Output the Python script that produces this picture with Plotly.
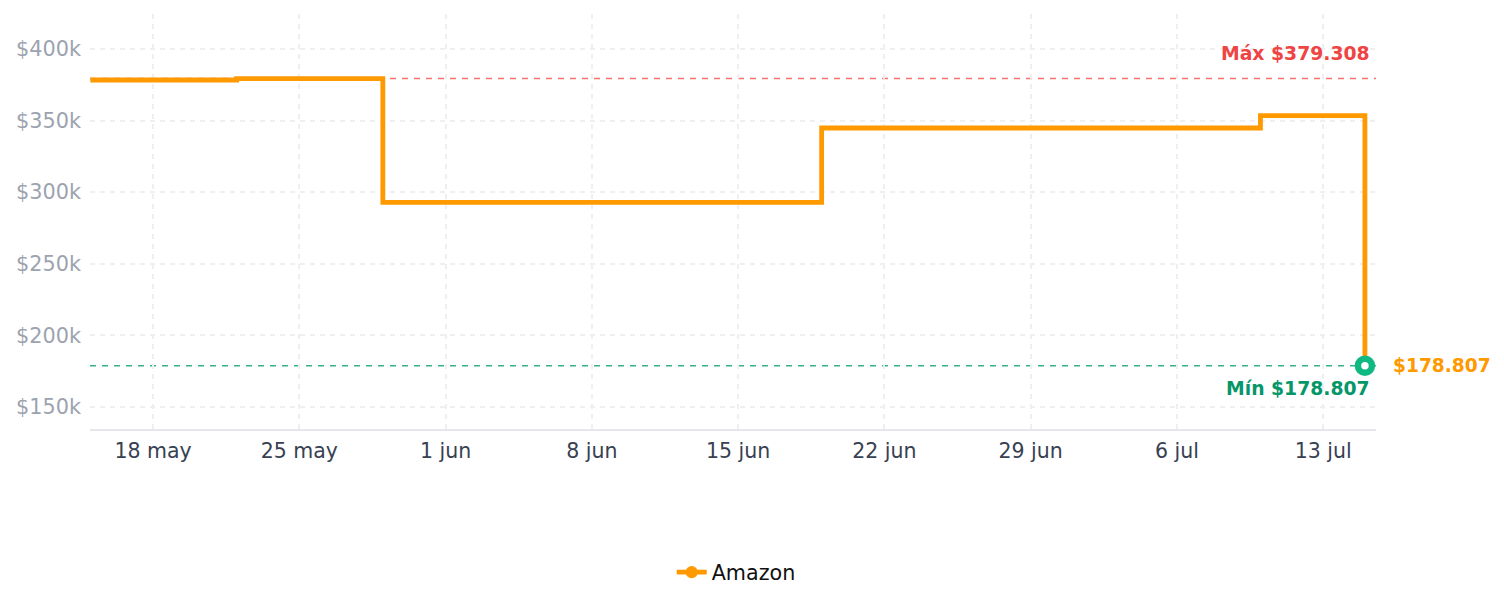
import plotly.graph_objects as go

# ---- data ----
dates = ["2025-05-15", "2025-05-22", "2025-05-29", "2025-06-19", "2025-07-10", "2025-07-15"]
prices = [378300, 379308, 292800, 344800, 353400, 178807]
series_name = "Amazon"

tick_dates = ["2025-05-18", "2025-05-25", "2025-06-01", "2025-06-08", "2025-06-15",
              "2025-06-22", "2025-06-29", "2025-07-06", "2025-07-13"]
tick_labels = ["18 may", "25 may", "1 jun", "8 jun", "15 jun", "22 jun", "29 jun", "6 jul", "13 jul"]
y_ticks = [150000, 200000, 250000, 300000, 350000, 400000]
y_tick_labels = ["$150k", "$200k", "$250k", "$300k", "$350k", "$400k"]

max_price = max(prices)
min_price = min(prices)
last_idx = len(prices) - 1

ORANGE = "#ff9900"
FONT = "DejaVu Sans"

def fmt(v):
    return "$" + f"{v:,.0f}".replace(",", ".")

fig = go.Figure()
fig.add_trace(go.Scatter(
    x=dates, y=prices, name=series_name, mode="lines+markers",
    line=dict(color=ORANGE, width=4.8, shape="hv"),
    marker=dict(
        color=ORANGE, size=11,
        line=dict(color=[ORANGE] * last_idx + ["#10b981"],
                  width=[0] * last_idx + [6.5]),
    ),
    selectedpoints=[last_idx],
    selected=dict(marker=dict(color="white", size=14)),
    unselected=dict(marker=dict(opacity=0)),
    cliponaxis=False,
))

# max / min reference lines
fig.add_shape(type="line", xref="paper", x0=0, x1=1, yref="y", y0=max_price, y1=max_price,
              line=dict(color="#f87171", width=1.5, dash="6px,6px"), layer="below")
fig.add_shape(type="line", xref="paper", x0=0, x1=1, yref="y", y0=min_price, y1=min_price,
              line=dict(color="#34b385", width=1.5, dash="6px,6px"), layer="below")

fig.add_annotation(xref="paper", x=1, xanchor="right", xshift=-4,
                   yref="y", y=max_price, yanchor="bottom", yshift=13,
                   text="<b>Máx " + fmt(max_price) + "</b>", showarrow=False,
                   font=dict(family=FONT, size=18.8, color="#ef4444"))
fig.add_annotation(xref="paper", x=1, xanchor="right", xshift=-4,
                   yref="y", y=min_price, yanchor="top", yshift=-10,
                   text="<b>Mín " + fmt(min_price) + "</b>", showarrow=False,
                   font=dict(family=FONT, size=18.8, color="#059669"))
fig.add_annotation(xref="x", x=dates[-1], xanchor="left", xshift=26,
                   yref="y", y=prices[-1], yanchor="middle",
                   text="<b>" + fmt(prices[-1]) + "</b>", showarrow=False,
                   font=dict(family=FONT, size=18.6, color=ORANGE))

fig.update_layout(
    width=1504, height=607, autosize=False,
    margin=dict(l=90, r=128, t=14, b=178),
    paper_bgcolor="white", plot_bgcolor="white",
    font=dict(family=FONT, size=20.5),
    showlegend=True,
    legend=dict(orientation="h", x=0.5025, xanchor="center", y=-0.345, yanchor="middle",
                font=dict(family=FONT, size=20.7, color="#111111")),
    xaxis=dict(
        type="date", range=["2025-05-14 23:38", "2025-07-15 12:43"],
        tickvals=tick_dates, ticktext=tick_labels,
        showgrid=True, gridcolor="#efefef", gridwidth=1.5, griddash="5px,5px",
        showline=True, linecolor="#e5e7eb", linewidth=1.5,
        ticks="", ticklabelstandoff=3,
        tickfont=dict(family=FONT, size=20.5, color="#374151"),
        zeroline=False,
    ),
    yaxis=dict(
        range=[134600, 424400], tickvals=y_ticks, ticktext=y_tick_labels,
        showgrid=True, gridcolor="#efefef", gridwidth=1.5, griddash="5px,5px",
        showline=False, ticks="", ticklabelstandoff=8, zeroline=False,
        tickfont=dict(family=FONT, size=20.8, color="#9ca3af"),
    ),
)

fig.write_html("out.html")
